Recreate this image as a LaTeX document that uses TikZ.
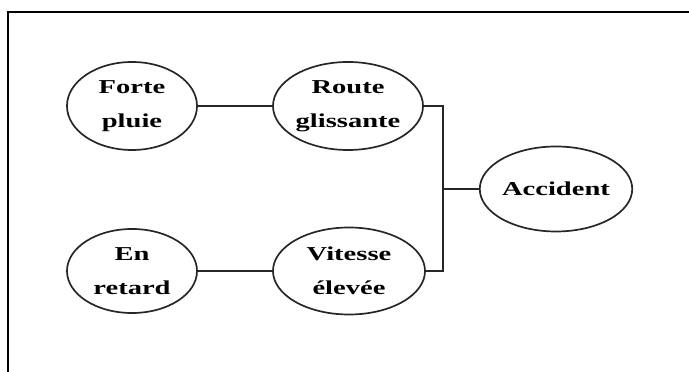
\documentclass[tikz,border=0pt]{standalone}
\usepackage{fontspec}
\newfontfamily\causefont[FakeStretch=1.45]{Liberation Serif}
\usetikzlibrary{shapes.geometric}
\begin{document}
\begin{tikzpicture}[x = .025cm, y = .025cm,
		cause/.style = {ellipse, draw = black!85, line width = 1.2pt, inner sep = 0pt,
			align = center, font = \causefont\bfseries\fontsize{14}{24.5}\selectfont},
		link/.style = {draw = black!85, line width = 1.1pt}]
		\useasboundingbox (0,0) rectangle (689,372);
		\clip (0,0) rectangle (689,372);
		\draw [line width = 1.2pt] (8,-10) -- (8,360) -- (700,360);
		% causes
		\node[cause, minimum width = 3.25cm, minimum height = 2.2cm] (pluie) at (132,266) {Forte\\pluie};
		\node[cause, minimum width = 3.75cm, minimum height = 2.2cm] (route) at (348,266) {Route\\glissante};
		\node[cause, minimum width = 3.25cm, minimum height = 2.1cm] (retard) at (132,101) {En\\retard};
		\node[cause, minimum width = 3.8cm, minimum height = 2.175cm] (vitesse) at (349,101) {Vitesse\\élevée};
		\node[cause, minimum width = 3.7cm, minimum height = 2.125cm] (accident) at (556,183) {Accident};
		% connectors
		\coordinate (joint) at (443,183);
		\draw[link] (pluie) -- (route);
		\draw[link] (retard) -- (vitesse);
		\draw[link] (route.east) -| (joint) |- (vitesse.east);
		\draw[link] (joint) -- (accident);
\end{tikzpicture}
\end{document}
